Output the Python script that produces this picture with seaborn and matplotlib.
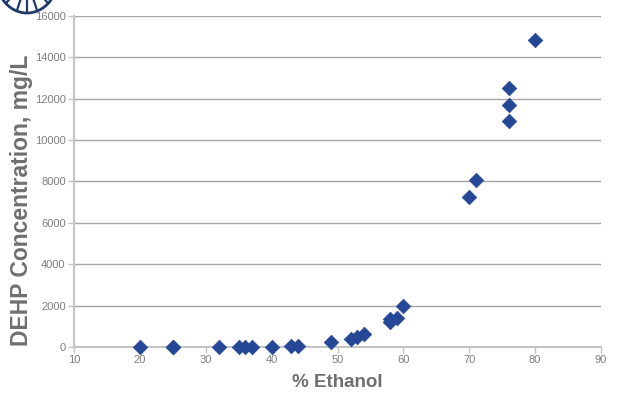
import matplotlib
matplotlib.use("Agg")
import matplotlib.pyplot as plt
import seaborn as sns
import numpy as np
import pandas as pd
from matplotlib.lines import Line2D

ethanol = [20, 25, 25, 32, 35, 36, 37, 40, 43, 44, 49, 52, 53, 54, 58, 58, 59, 60, 70, 71, 76, 76, 76, 80]
dehp = [0, 0, 0, 0, 0, 0, 0, 0, 40, 50, 240, 390, 480, 630, 1200, 1350, 1400, 1980, 7250, 8070, 10920, 11690, 12510, 14830]
x_ticks = [10, 20, 30, 40, 50, 60, 70, 80, 90]
y_ticks = [0, 2000, 4000, 6000, 8000, 10000, 12000, 14000, 16000]

df = pd.DataFrame({"ethanol": ethanol, "dehp": dehp})

sns.set_theme(style="white")
plt.rcParams['font.family'] = ['Liberation Sans', 'DejaVu Sans']

fig = plt.figure(figsize=(6.19, 3.93), dpi=100)
ax = fig.add_axes([74/619, 1 - 347/393, (601-74)/619, (347-16)/393])

ax.set_axisbelow(True)
ax.yaxis.grid(True, color="#a6a6a6", linewidth=1.0)
ax.xaxis.grid(False)

sns.scatterplot(data=df, x="ethanol", y="dehp", marker="D", s=55,
                color="#264796", edgecolor="#264796", linewidth=0.5, ax=ax, zorder=3, clip_on=False)

ax.set_xlim(10, 90)
ax.set_ylim(0, 16000)
ax.set_xticks(x_ticks)
ax.set_yticks(y_ticks)
ax.set_xticklabels([str(t) for t in x_ticks])
ax.set_yticklabels([str(t) for t in y_ticks])

for s in ["top", "right"]:
    ax.spines[s].set_visible(False)
for s in ["left", "bottom"]:
    ax.spines[s].set_color("#c4c4c4")
    ax.spines[s].set_linewidth(1.5)

ax.tick_params(axis="both", which="major", labelsize=8, colors="#c4c4c4",
               labelcolor="#7f7f7f", length=4, width=1, direction="out",
               bottom=True, left=True, pad=2)

ax.set_xlabel("% Ethanol", fontsize=13.5, fontweight="bold", color="#6f6f6f", labelpad=6)
ax.set_ylabel("DEHP Concentration, mg/L", fontsize=16.5, fontweight="bold", color="#6f6f6f")
ax.yaxis.set_label_coords((22 - 74) / 527, (347 - 200) / 331)
ax.yaxis.label.set_va("center")

# partial logo at top-left (cropped globe)
logo = "#1f3a6b"
t = np.linspace(np.pi * 1.02, np.pi * 1.98, 60)
cx, cy, rx, ry = 27, -20, 30, 33
px = (cx + rx * np.cos(t)) / 619
py = 1 - (cy - ry * np.sin(t)) / 393
fig.add_artist(Line2D(px, py, color=logo, lw=2.0))
for ang in [200, 225, 250, 270, 290, 315, 340]:
    r = np.deg2rad(ang)
    x1 = cx + rx * np.cos(r)
    y1 = cy - ry * np.sin(r)
    fig.add_artist(Line2D([cx / 619, x1 / 619], [1 - cy / 393, 1 - y1 / 393], color=logo, lw=1.6))

fig.savefig("out.png", dpi=100)
